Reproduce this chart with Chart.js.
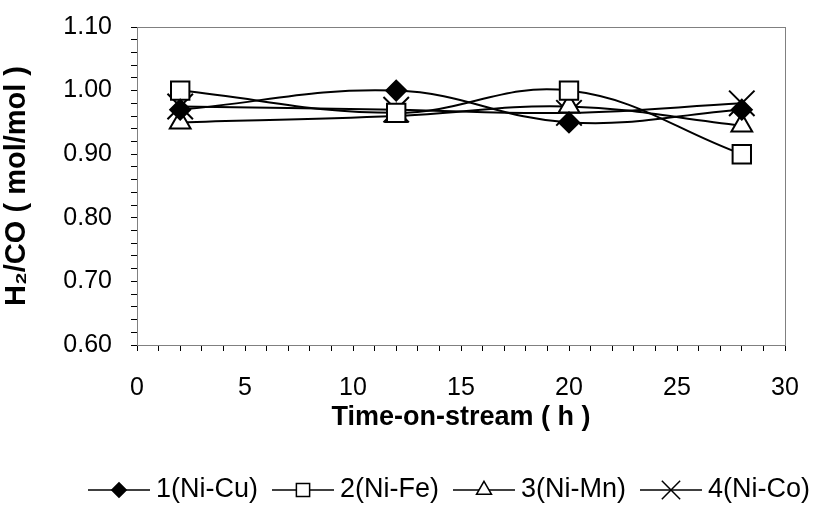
<!DOCTYPE html>
<html>
<head>
<meta charset="utf-8">
<script src="https://cdn.jsdelivr.net/npm/chart.js@4/dist/chart.umd.min.js"></script>
<style>
  html, body { margin: 0; padding: 0; background: #fff; }
  #wrap { width: 814px; height: 512px; }
</style>
</head>
<body>
<div id="wrap"><canvas id="h2coChart" width="814" height="512"></canvas></div>
<script>
// time-on-stream (h)
const hours = [2, 12, 20, 28];

// H2/CO ratio
const niCu = [0.97, 1.00, 0.95, 0.97];
const niFe = [1.00, 0.965, 1.00, 0.90];
const niMn = [0.95, 0.96, 0.975, 0.945];
const niCo = [0.975, 0.97, 0.965, 0.98];

const seriesLabels = ['1(Ni-Cu)', '2(Ni-Fe)', '3(Ni-Mn)', '4(Ni-Co)'];

const yMin = 0.60, yMax = 1.10;
const xMin = 0, xMax = 30;

const FONT = 'Liberation Sans, Arial, Helvetica, sans-serif';
Chart.defaults.font.family = FONT;
Chart.defaults.color = '#000';

const toPoints = vals => vals.map((v, i) => ({ x: hours[i], y: v }));

function makeSet(label, vals, style, radius, fill) {
    return {
        label,
        data: toPoints(vals),
        borderColor: '#000',
        borderWidth: 2,
        tension: 0.4,
        pointStyle: style,
        pointRadius: radius,
        pointHoverRadius: radius,
        pointBackgroundColor: fill,
        pointBorderColor: '#000',
        pointBorderWidth: 2,
        clip: false
    };
}

// box around the plot area (gray like the original)
const plotFrame = {
    id: 'plotFrame',
    beforeDatasetsDraw(chart) {
        const { ctx, chartArea: a } = chart;
        ctx.save();
        ctx.strokeStyle = '#808080';
        ctx.lineWidth = 1;
        ctx.strokeRect(Math.round(a.left) + 0.5, Math.round(a.top) + 0.5,
            Math.round(a.right - a.left), Math.round(a.bottom - a.top));
        ctx.restore();
    }
};

// Excel-like legend: line segment with marker in the middle, then label
const lineLegend = {
    id: 'lineLegend',
    afterDraw(chart) {
        const ctx = chart.ctx;
        const y = 490;
        let x = 88;
        const segLen = 62;
        ctx.save();
        ctx.font = '27px ' + FONT;
        ctx.textBaseline = 'middle';
        ctx.textAlign = 'left';
        chart.data.datasets.forEach(ds => {
            ctx.strokeStyle = '#000';
            ctx.lineWidth = 1.5;
            ctx.beginPath();
            ctx.moveTo(x, y);
            ctx.lineTo(x + segLen, y);
            ctx.stroke();
            ctx.fillStyle = ds.pointBackgroundColor;
            ctx.strokeStyle = '#000';
            ctx.lineWidth = 1.5;
            Chart.helpers.drawPoint(ctx, {
                pointStyle: ds.pointStyle,
                radius: ds.pointRadius * 0.72,
                rotation: 0,
                borderWidth: 1.5
            }, x + segLen / 2, y);
            ctx.fillStyle = '#000';
            ctx.fillText(ds.label, x + segLen + 6, y);
            x += segLen + 6 + ctx.measureText(ds.label).width + 14;
        });
        ctx.restore();
    }
};

const ctx = document.getElementById('h2coChart').getContext('2d');
const h2coChart = new Chart(ctx, {
    type: 'line',
    data: {
        datasets: [
            makeSet(seriesLabels[0], niCu, 'rectRot', 10, '#000'),
            makeSet(seriesLabels[1], niFe, 'rect', 13, '#fff'),
            makeSet(seriesLabels[2], niMn, 'triangle', 12, '#fff'),
            makeSet(seriesLabels[3], niCo, 'crossRot', 18, '#000')
        ]
    },
    plugins: [plotFrame, lineLegend],
    options: {
        responsive: false,
        animation: false,
        events: [],
        layout: { padding: { top: 27, right: 29, bottom: 62, left: 0 } },
        scales: {
            x: {
                type: 'linear',
                min: xMin,
                max: xMax,
                afterFit: s => {
                    s.height = 105;
                    s.paddingLeft = 0;
                    s.paddingRight = 0;
                },
                ticks: {
                    stepSize: 1,
                    autoSkip: false,
                    maxRotation: 0,
                    padding: 22,
                    font: { size: 25 },
                    callback: v => (v % 5 === 0 ? String(v) : '')
                },
                grid: { drawOnChartArea: false, tickLength: 6, color: '#000', tickWidth: 1 },
                border: { color: '#000', width: 1 },
                title: {
                    display: true,
                    text: 'Time-on-stream ( h )',
                    font: { size: 27, weight: 'bold' },
                    padding: { top: 0, bottom: 16 }
                }
            },
            y: {
                min: yMin,
                max: yMax,
                afterFit: s => {
                    s.width = 137;
                    s.paddingTop = 0;
                    s.paddingBottom = 0;
                },
                ticks: {
                    stepSize: 0.02,
                    autoSkip: false,
                    padding: 19,
                    font: { size: 25 },
                    callback: v => (Math.round(v * 100) % 10 === 0 ? v.toFixed(2) : '')
                },
                grid: { drawOnChartArea: false, tickLength: 6, color: '#000', tickWidth: 1 },
                border: { color: '#000', width: 1 },
                title: {
                    display: true,
                    text: 'H\u2082/CO ( mol/mol )',
                    font: { size: 29, weight: 'bold' },
                    padding: { top: 0, bottom: 8 }
                }
            }
        },
        plugins: {
            legend: { display: false },
            tooltip: { enabled: false }
        }
    }
});
</script>
</body>
</html>
